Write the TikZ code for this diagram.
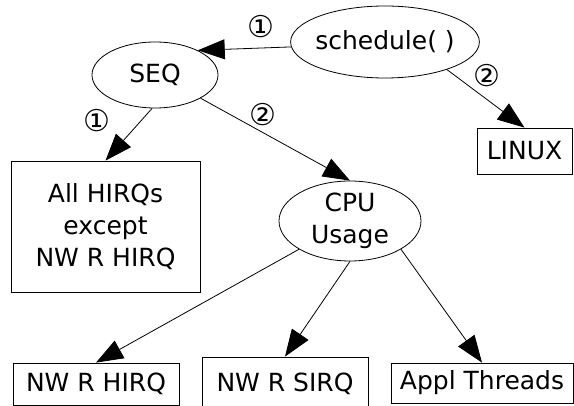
\documentclass[tikz,border=0pt]{standalone}
\usepackage{fontspec}
\setmainfont{DejaVu Sans}
\usetikzlibrary{arrows.meta,shapes.geometric}

\begin{document}
\begin{tikzpicture}[x=1pt,y=-1pt,line width=0.8pt,font=\fontsize{25}{32}\selectfont,
  >={Triangle[length=27pt,width=20pt]},
  oval/.style={draw,ellipse,inner sep=-3pt,align=center},
  box/.style={draw,rectangle,inner sep=0pt,align=center},
  tag/.style={inner sep=0pt,font=\fontsize{30}{30}\selectfont}]
\useasboundingbox (0,0) rectangle (574,406);
\node[oval,minimum width=176pt,minimum height=72pt] (sched) at (385,42) {schedule( )};
\node[oval,minimum width=126pt,minimum height=66pt] (seq) at (155,75) {SEQ};
\node[oval,minimum width=142pt,minimum height=80pt] (cpu) at (350,221) {CPU\\Usage};
\node[box,minimum width=95pt,minimum height=46pt] (linux) at (524.5,151) {LINUX};
\node[box,minimum width=189pt,minimum height=131pt] (allh) at (105.5,226.5) {All HIRQs\\except\\NW R HIRQ};
\node[box,minimum width=166pt,minimum height=42pt] (nwh) at (96,384) {NW R HIRQ};
\node[box,minimum width=166pt,minimum height=54pt] (nws) at (285,384) {NW R SIRQ};
\node[box,minimum width=182pt,minimum height=40pt] (appl) at (482,383) {Appl Threads};
% edge labels
\node[tag] (n1a) at (261,27) {①};
\node[tag] (n2a) at (487,76) {②};
\node[tag] (n1b) at (97,121) {①};
\node[tag] (n2b) at (263,115) {②};
% edges
\draw[->] (sched.183) -- (seq.30);
\draw[->] (sched.336) -- (linux.north);
\draw[->] (seq.265) -- (allh.north);
\draw[->] (seq.333) -- (cpu.north);
\draw[->] (cpu.209) -- (nwh.north);
\draw[->] (cpu.south) -- (nws.north);
\draw[->] (cpu.331) -- (appl.north);
\end{tikzpicture}
\end{document}
